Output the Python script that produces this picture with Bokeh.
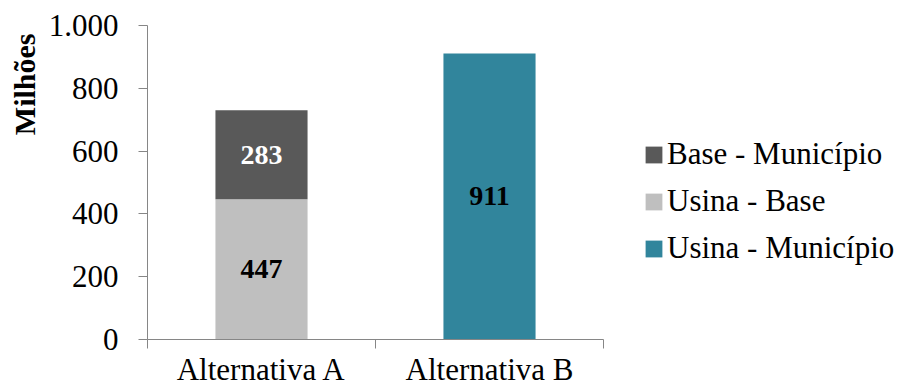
import math
from bokeh.plotting import figure
from bokeh.layouts import row
from bokeh.models import (Range1d, FixedTicker, ColumnDataSource, Legend, LegendItem,
                          LabelSet, Title)
from bokeh.embed import file_html
from bokeh.resources import INLINE

categories = ["Alternativa A", "Alternativa B"]
usina_base = [447, 0]
base_municipio = [283, 0]
usina_municipio = [0, 911]
y_ticks = [0, 200, 400, 600, 800, 1000]
y_tick_labels = ["0", "200", "400", "600", "800", "1.000"]
series_names = ["Base - Município", "Usina - Base", "Usina - Município"]

FONT = "Liberation Serif"
C_BASE_MUN = "#595959"
C_USINA_BASE = "#BFBFBF"
C_USINA_MUN = "#31859C"
AXIS_COLOR = "#868686"

xs = [i + 0.5 for i in range(len(categories))]

p = figure(width=620, height=389, output_backend="svg", toolbar_location=None,
           x_range=Range1d(0, len(categories)), y_range=Range1d(0, 1000),
           min_border_left=147, min_border_right=17, min_border_top=25, min_border_bottom=50)
p.outline_line_color = None
p.xgrid.visible = False
p.ygrid.visible = False
p.background_fill_color = "white"
p.border_fill_color = "white"

src_a = ColumnDataSource(dict(x=xs[:1], bottom=[0], top=[usina_base[0]]))
src_b = ColumnDataSource(dict(x=xs[:1], bottom=[usina_base[0]], top=[usina_base[0] + base_municipio[0]]))
src_c = ColumnDataSource(dict(x=xs[1:], bottom=[0], top=[usina_municipio[1]]))

w = 0.404
p.vbar(x="x", bottom="bottom", top="top", width=w, source=src_a,
       fill_color=C_USINA_BASE, line_color=None)
p.vbar(x="x", bottom="bottom", top="top", width=w, source=src_b,
       fill_color=C_BASE_MUN, line_color=None)
p.vbar(x="x", bottom="bottom", top="top", width=w, source=src_c,
       fill_color=C_USINA_MUN, line_color=None)

# data labels
lab_src = ColumnDataSource(dict(
    x=[xs[0], xs[0], xs[1]],
    y=[usina_base[0] / 2, usina_base[0] + base_municipio[0] / 2, usina_municipio[1] / 2],
    text=[str(usina_base[0]), str(base_municipio[0]), str(usina_municipio[1])],
    color=["black", "white", "black"],
))
p.add_layout(LabelSet(x="x", y="y", text="text", source=lab_src, text_color="color",
                      text_font=FONT, text_font_size="28px", text_font_style="bold",
                      text_align="center", text_baseline="middle"))

# y axis
yax = p.yaxis[0]
yax.ticker = FixedTicker(ticks=y_ticks)
yax.major_label_overrides = {t: l for t, l in zip(y_ticks, y_tick_labels)}
yax.axis_line_color = AXIS_COLOR
yax.major_tick_line_color = AXIS_COLOR
yax.major_tick_out = 9
yax.major_tick_in = 0
yax.minor_tick_line_color = None
yax.major_label_text_font = FONT
yax.major_label_text_font_size = "31px"
yax.major_label_text_color = "black"
yax.major_label_standoff = 20

# x axis
xax = p.xaxis[0]
xax.ticker = FixedTicker(ticks=xs, minor_ticks=list(range(len(categories) + 1)))
xax.major_label_overrides = {x: c for x, c in zip(xs, categories)}
xax.axis_line_color = AXIS_COLOR
xax.major_tick_out = 0
xax.major_tick_in = 0
xax.major_tick_line_color = None
xax.minor_tick_line_color = AXIS_COLOR
xax.minor_tick_out = 0
xax.minor_tick_in = -9
xax.major_label_text_font = FONT
xax.major_label_text_font_size = "31px"
xax.major_label_text_color = "black"
xax.major_label_standoff = 12

# y axis title (placed at top of left side)
p.add_layout(Title(text="Milhões", align="right", text_font=FONT, text_font_size="30px",
                   text_font_style="bold", text_color="black", standoff=10, offset=8), "left")

# legend panel
lg = figure(width=285, height=389, output_backend="svg", toolbar_location=None,
            x_range=Range1d(0, 1), y_range=Range1d(0, 1),
            min_border=0, min_border_left=0, min_border_right=0,
            min_border_top=0, min_border_bottom=0)
lg.axis.visible = False
lg.xgrid.visible = False
lg.ygrid.visible = False
lg.outline_line_color = None
colors = [C_BASE_MUN, C_USINA_BASE, C_USINA_MUN]
items = []
for name, c in zip(series_names, colors):
    r = lg.vbar(x=[5], top=[1], bottom=[0], width=0.1, fill_color=c, line_color=None)
    items.append(LegendItem(label=name, renderers=[r]))
legend = Legend(items=items, location=(23, 73), orientation="vertical",
                glyph_width=21, glyph_height=21, label_standoff=3, spacing=11,
                padding=0, margin=0, border_line_color=None, background_fill_alpha=0,
                label_text_font=FONT, label_text_font_size="31px", label_text_color="black")
lg.add_layout(legend)

open("out.html", "w").write(file_html(row(p, lg, spacing=0), INLINE))
